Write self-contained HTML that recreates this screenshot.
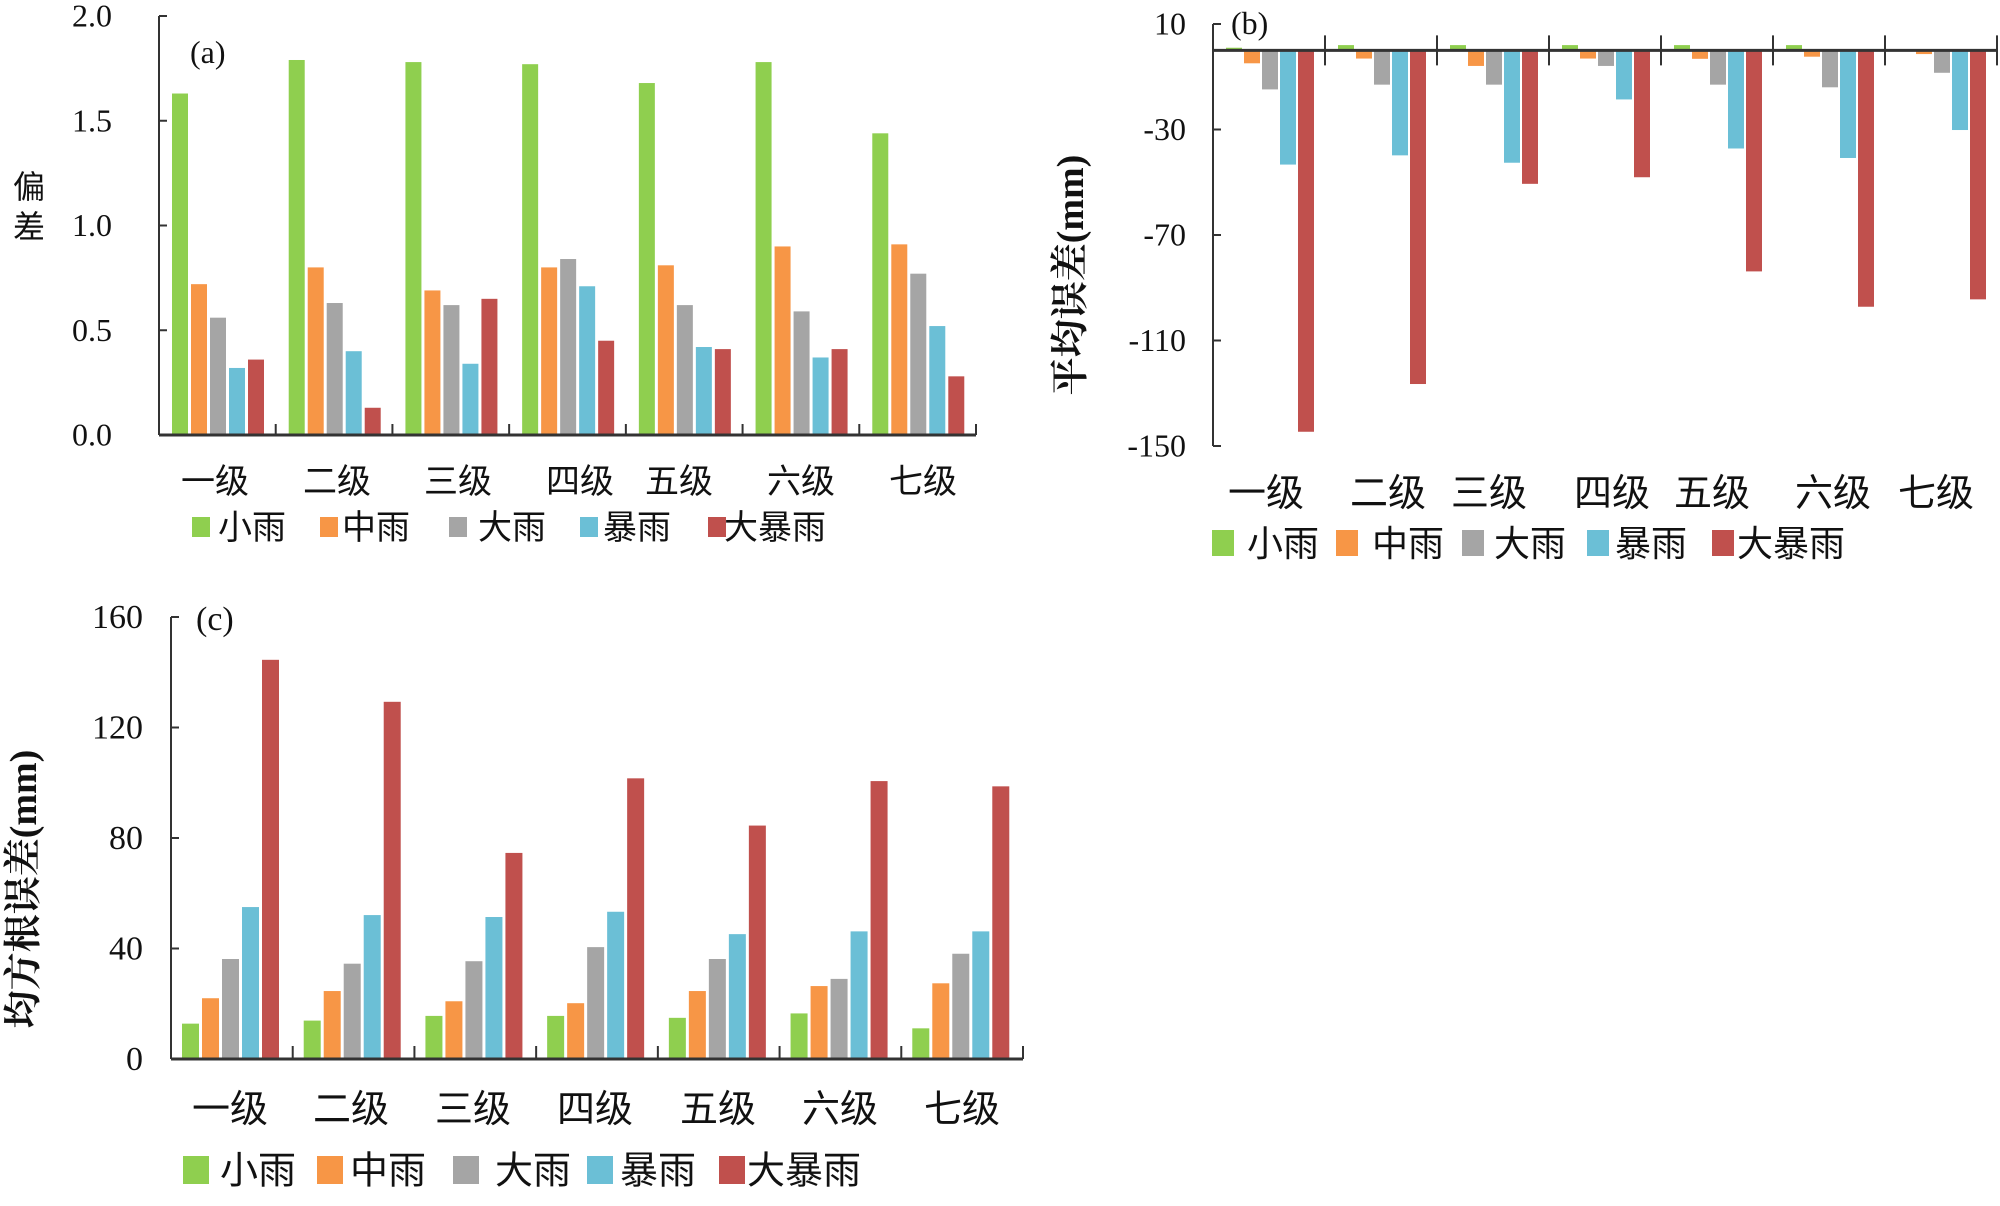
<!DOCTYPE html>
<html><head><meta charset="utf-8">
<style>
html,body{margin:0;padding:0;background:#fff;}
svg{display:block;}
text{font-family:"Liberation Serif","Noto Serif CJK SC",serif;fill:#111;}
.cjk{font-family:"Liberation Serif","Noto Sans CJK SC",sans-serif;}
</style></head>
<body>
<svg id="fig" width="2000" height="1206" viewBox="0 0 2000 1206" xmlns="http://www.w3.org/2000/svg"></svg>
<script>
const categories = ["一级","二级","三级","四级","五级","六级","七级"];
const seriesNames = ["小雨","中雨","大雨","暴雨","大暴雨"];
const colors = ["#8fcf4f","#f79646","#a5a5a5","#6bbfd6","#c0504d"];

// (a) 偏差
const aSmall = [1.63,1.79,1.78,1.77,1.68,1.78,1.44];
const aMid   = [0.72,0.80,0.69,0.80,0.81,0.90,0.91];
const aBig   = [0.56,0.63,0.62,0.84,0.62,0.59,0.77];
const aStorm = [0.32,0.40,0.34,0.71,0.42,0.37,0.52];
const aHeavy = [0.36,0.13,0.65,0.45,0.41,0.41,0.28];
const aTicks = ["0.0","0.5","1.0","1.5","2.0"];
const aTickVals = [0,0.5,1,1.5,2];

// (b) 平均误差
const bSmall = [1,2,2,2,2,2,0.5];
const bMid   = [-4.9,-3.1,-5.9,-3.1,-3.2,-2.4,-1.4];
const bBig   = [-14.8,-13,-13,-5.9,-13,-14,-8.5];
const bStorm = [-43.3,-39.8,-42.6,-18.6,-37.2,-40.8,-30.2];
const bHeavy = [-144.6,-126.5,-50.6,-48.1,-83.8,-97.2,-94.4];
const bTicks = ["-150","-110","-70","-30","10"];
const bTickVals = [-150,-110,-70,-30,10];

// (c) 均方根误差
const cSmall = [12.8,13.9,15.6,15.6,14.9,16.5,11.1];
const cMid   = [22,24.6,20.9,20.2,24.6,26.4,27.4];
const cBig   = [36.2,34.5,35.4,40.5,36.2,29,38.1];
const cStorm = [55,52.1,51.4,53.3,45.2,46.2,46.2];
const cHeavy = [144.5,129.3,74.6,101.6,84.5,100.6,98.7];
const cTicks = ["0","40","80","120","160"];
const cTickVals = [0,40,80,120,160];

const NS="http://www.w3.org/2000/svg";
const svg=document.getElementById('fig');
function mk(tag,attrs,parent){const e=document.createElementNS(NS,tag);for(const k in attrs)e.setAttribute(k,attrs[k]);(parent||svg).appendChild(e);return e;}
function txt(s,attrs,parent){const e=mk('text',attrs,parent);e.textContent=s;return e;}

function drawChart(cfg){
  const g=mk('g',{});
  
  
  const y=v=>cfg.y0+(v-cfg.vmin)/(cfg.vmax-cfg.vmin)*(cfg.y1-cfg.y0);
  const gw=(cfg.x1-cfg.x0)/categories.length;
  const x=i=>cfg.x0+i*gw;
  const base=y(cfg.baseVal);
  cfg.series.forEach((arr,s)=>{
    arr.forEach((v,i)=>{
      const bx=x(i)+cfg.off+s*cfg.step;
      const yv=y(v);
      const r=mk('rect',{x:bx,y:Math.min(yv,base),width:cfg.bw,height:Math.abs(yv-base),fill:colors[s]},g);
      
      
    });
  });
  const ya=mk('line',{x1:cfg.x0,y1:y(cfg.vmax),x2:cfg.x0,y2:y(cfg.vmin),stroke:'#333','stroke-width':2},g);
  
  
  cfg.tickVals.forEach((v,i)=>{
    mk('line',{x1:cfg.x0,y1:y(v),x2:cfg.x0+8,y2:y(v),stroke:'#333','stroke-width':2},g);
    const t=txt(cfg.ticks[i],{x:cfg.tickX,y:y(v)+cfg.tfs*0.33,'text-anchor':'end','font-size':cfg.tfs},g);
    
    
  });
  const xa=mk('line',{x1:cfg.x0,y1:base,x2:cfg.x1,y2:base,stroke:'#333','stroke-width':3},g);
  
  
  for(let i=1;i<=categories.length;i++){
    mk('line',{x1:x(i),y1:base+cfg.tickDown,x2:x(i),y2:base-cfg.tickUp,stroke:'#333','stroke-width':2},g);
  }
  categories.forEach((c,i)=>{
    const t=txt(c,{x:cfg.catX[i],y:cfg.catY,'text-anchor':'middle','font-size':cfg.cfs,'class':'cjk'},g);
    
    
  });
  seriesNames.forEach((n,s)=>{
    const lg=mk('g',{},g);
    
    
    mk('rect',{x:cfg.legSq[s],y:cfg.legY-cfg.sqH/2,width:cfg.sqW,height:cfg.sqH,fill:colors[s]},lg);
    txt(n,{x:cfg.legTx[s],y:cfg.legY+cfg.lfs*0.36,'font-size':cfg.lfs,'class':'cjk'},lg);
  });
  const p=txt(cfg.panel,{x:cfg.panelX,y:cfg.panelY,'font-size':cfg.tfs},g);
  
  
  return g;
}

drawChart({name:'chart-a-bias',key:'a',series:[aSmall,aMid,aBig,aStorm,aHeavy],vmin:0,vmax:2,baseVal:0,
  y0:435,y1:16,x0:159,x1:976,off:13,step:19,bw:16,ticks:aTicks,tickVals:aTickVals,tickX:112,tfs:32,
  tickDown:0,tickUp:11,catX:[215,337,458,580,679,801,923],catY:493,cfs:34,
  legY:527,legSq:[192,320,449,580,708],legTx:[218,342,478,603,724],sqW:18,sqH:20,lfs:34,panel:'(a)',panelX:190,panelY:63});
drawChart({name:'chart-b-mean-error',key:'b',series:[bSmall,bMid,bBig,bStorm,bHeavy],vmin:-150,vmax:10,baseVal:0,
  y0:446,y1:24,x0:1213,x1:1997,off:13,step:18,bw:16,ticks:bTicks,tickVals:bTickVals,tickX:1186,tfs:32,
  tickDown:15,tickUp:15,catX:[1266,1388,1489,1612,1712,1833,1936],catY:506,cfs:38,
  legY:543,legSq:[1212,1336,1462,1587,1712],legTx:[1247,1372,1494,1615,1737],sqW:22,sqH:26,lfs:36,panel:'(b)',panelX:1231,panelY:34});
drawChart({name:'chart-c-rmse',key:'c',series:[cSmall,cMid,cBig,cStorm,cHeavy],vmin:0,vmax:160,baseVal:0,
  y0:1059,y1:617,x0:171,x1:1023,off:11,step:20,bw:17,ticks:cTicks,tickVals:cTickVals,tickX:143,tfs:34,
  tickDown:0,tickUp:13,catX:[230,351,473,595,718,840,962],catY:1122,cfs:38,
  legY:1170,legSq:[183,317,453,587,719],legTx:[220,350,495,620,747],sqW:26,sqH:28,lfs:38,panel:'(c)',panelX:196,panelY:630});

let t;
t=txt('偏',{x:29,y:198,'text-anchor':'middle','font-size':32,'class':'cjk',fill:'#333'});


txt('差',{x:29,y:238,'text-anchor':'middle','font-size':32,'class':'cjk',fill:'#333'});
t=txt('平均误差(mm)',{x:0,y:0,'text-anchor':'middle','font-size':38,'font-weight':'bold',transform:'translate(1083,275) rotate(-90)'});


t=txt('均方根误差(mm)',{x:0,y:0,'text-anchor':'middle','font-size':38,'font-weight':'bold',transform:'translate(36,889) rotate(-90)'});


</script>
</body></html>
